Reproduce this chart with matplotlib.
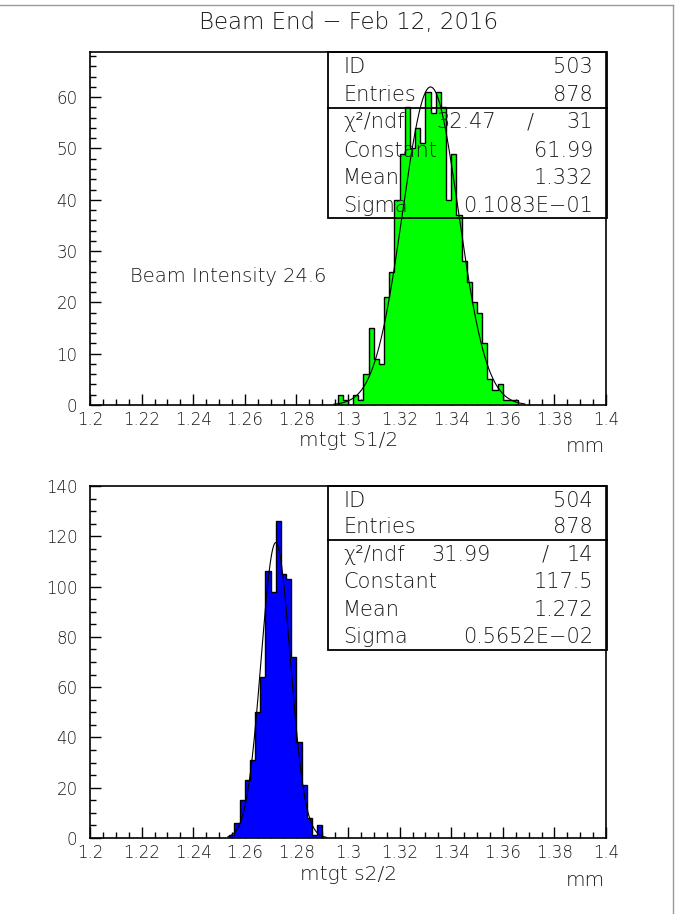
import numpy as np
import matplotlib
matplotlib.use("Agg")
import matplotlib.pyplot as plt
from matplotlib.ticker import MultipleLocator, FuncFormatter
from matplotlib.lines import Line2D
from matplotlib.patches import Rectangle

# ---------------- data ----------------
title = "Beam End \u2212 Feb 12, 2016"
bin_width = 0.002

h1_id, h1_entries = "503", "878"
h1_first_edge = 1.296
h1_counts = [2, 1, 0, 2, 1, 6, 15, 9, 8, 21, 26, 40, 49, 58, 50, 54, 51, 61,
             57, 61, 58, 40, 49, 37, 28, 24, 20, 18, 12, 5, 3, 4, 1, 1, 1]
h1_chi2, h1_ndf = "32.47", "31"
h1_const, h1_mean, h1_sigma = 61.99, 1.332, 0.01083
h1_sigma_txt = "0.1083E\u221201"
h1_xlabel = "mtgt S1/2"
h1_yticks = [0, 10, 20, 30, 40, 50, 60]

h2_id, h2_entries = "504", "878"
h2_first_edge = 1.254
h2_counts = [1, 6, 15, 23, 31, 50, 64, 106, 98, 126, 105, 103, 72, 38, 21, 8, 1, 5]
h2_chi2, h2_ndf = "31.99", "14"
h2_const, h2_mean, h2_sigma = 117.5, 1.272, 0.005652
h2_sigma_txt = "0.5652E\u221202"
h2_xlabel = "mtgt s2/2"
h2_yticks = [0, 20, 40, 60, 80, 100, 120, 140]

x_ticks = [1.2, 1.22, 1.24, 1.26, 1.28, 1.3, 1.32, 1.34, 1.36, 1.38, 1.4]
annot = "Beam Intensity 24.6"
unit = "mm"

# ---------------- figure ----------------
W, H = 677, 914
fig = plt.figure(figsize=(W / 100, H / 100), dpi=100)
FONT = dict(family="DejaVu Sans", fontweight="light", color="#1a1a1a")


def rect(l, t, r, b):
    return [l / W, 1 - b / H, (r - l) / W, (b - t) / H]


def ftext(x, y, s, ha="left", size=15, **kw):
    fig.text(x / W, 1 - y / H, s, ha=ha, va="center", fontsize=size,
             transform=fig.transFigure, **FONT, **kw)


def fline(x0, y0, x1, y1, color="black", lw=1.3):
    fig.add_artist(Line2D([x0 / W, x1 / W], [1 - y0 / H, 1 - y1 / H],
                          transform=fig.transFigure, color=color, lw=lw))


# outer frame lines
fline(0, 5, 673, 5, color="#999999", lw=1.0)
fline(673, 5, 673, 914, color="#999999", lw=1.0)

ftext(349, 22, title, ha="center", size=16.5)


def draw_hist(ax, first_edge, counts, color, const, mean, sigma, ymax,
              yticks, yminor, fit_lo, fit_hi):
    edges = first_edge + bin_width * np.arange(len(counts) + 1)
    ax.stairs(counts, edges, fill=True, color=color, zorder=2)
    ax.stairs(counts, edges, fill=False, color="black", lw=1.0,
              baseline=0, zorder=3)
    xs = np.linspace(fit_lo, fit_hi, 400)
    ax.plot(xs, const * np.exp(-0.5 * ((xs - mean) / sigma) ** 2),
            color="black", lw=0.8, zorder=4)
    ax.set_xlim(1.2, 1.4)
    ax.set_ylim(0, ymax)
    ax.set_xticks(x_ticks)
    ax.xaxis.set_minor_locator(MultipleLocator(0.005))
    ax.set_yticks(yticks)
    ax.yaxis.set_minor_locator(MultipleLocator(yminor))
    ax.xaxis.set_major_formatter(FuncFormatter(lambda v, p: "%g" % round(v, 3)))
    ax.tick_params(which="both", direction="in", top=False, right=False,
                   labelsize=12, labelcolor="#1a1a1a")
    ax.tick_params(which="major", length=8, width=1.0)
    ax.tick_params(which="minor", length=4, width=1.0)
    ax.tick_params(axis="x", pad=4)
    ax.tick_params(axis="y", pad=9)
    for lab in ax.get_xticklabels() + ax.get_yticklabels():
        lab.set_fontweight("light")
    for sp in ax.spines.values():
        sp.set_linewidth(1.2)


ax1 = fig.add_axes(rect(90, 52, 606, 405))
draw_hist(ax1, h1_first_edge, h1_counts, "#00ff00", h1_const, h1_mean,
          h1_sigma, 68.8, h1_yticks, 2, 1.2945, 1.3685)

ax2 = fig.add_axes(rect(90, 486, 606, 838))
draw_hist(ax2, h2_first_edge, h2_counts, "#0000ff", h2_const, h2_mean,
          h2_sigma, 140, h2_yticks, 5, 1.2535, 1.2915)


def stats_box(top, sep, bottom, rows_y, hid, entries, chi2, ndf, const,
              mean, sigma_txt, chi_x, slash_x):
    l, r = 328, 607
    fig.add_artist(Rectangle((l / W, 1 - bottom / H), (r - l) / W,
                             (bottom - top) / H, fill=False, lw=1.3,
                             ec="black", transform=fig.transFigure, zorder=10))
    fline(l, sep, r, sep, lw=1.3)
    labels = ["ID", "Entries", "\u03c7\u00b2/ndf", "Constant", "Mean", "Sigma"]
    vals = [hid, entries, None, "%.4g" % const, "%.4g" % mean, sigma_txt]
    for y, lab, v in zip(rows_y, labels, vals):
        ftext(343, y, lab)
        if v is not None:
            ftext(593, y, v, ha="right")
    ftext(chi_x, rows_y[2], chi2, ha="right")
    ftext(slash_x, rows_y[2], "/", ha="center")
    ftext(593, rows_y[2], ndf, ha="right")


stats_box(52, 108, 218, [67, 95, 122, 151, 178, 206], h1_id, h1_entries,
          h1_chi2, h1_ndf, h1_const, h1_mean, h1_sigma_txt, 496, 530)
stats_box(486, 540, 650, [501, 527, 555, 582, 610, 637], h2_id, h2_entries,
          h2_chi2, h2_ndf, h2_const, h2_mean, h2_sigma_txt, 491, 545)

ftext(130, 276, annot, size=14)
ftext(349, 440, h1_xlabel, ha="center", size=14.5)
ftext(605, 447, unit, ha="right", size=14.5)
ftext(349, 875, h2_xlabel, ha="center", size=14.5)
ftext(605, 881, unit, ha="right", size=14.5)

fig.savefig("out.png", dpi=100, facecolor="white")
